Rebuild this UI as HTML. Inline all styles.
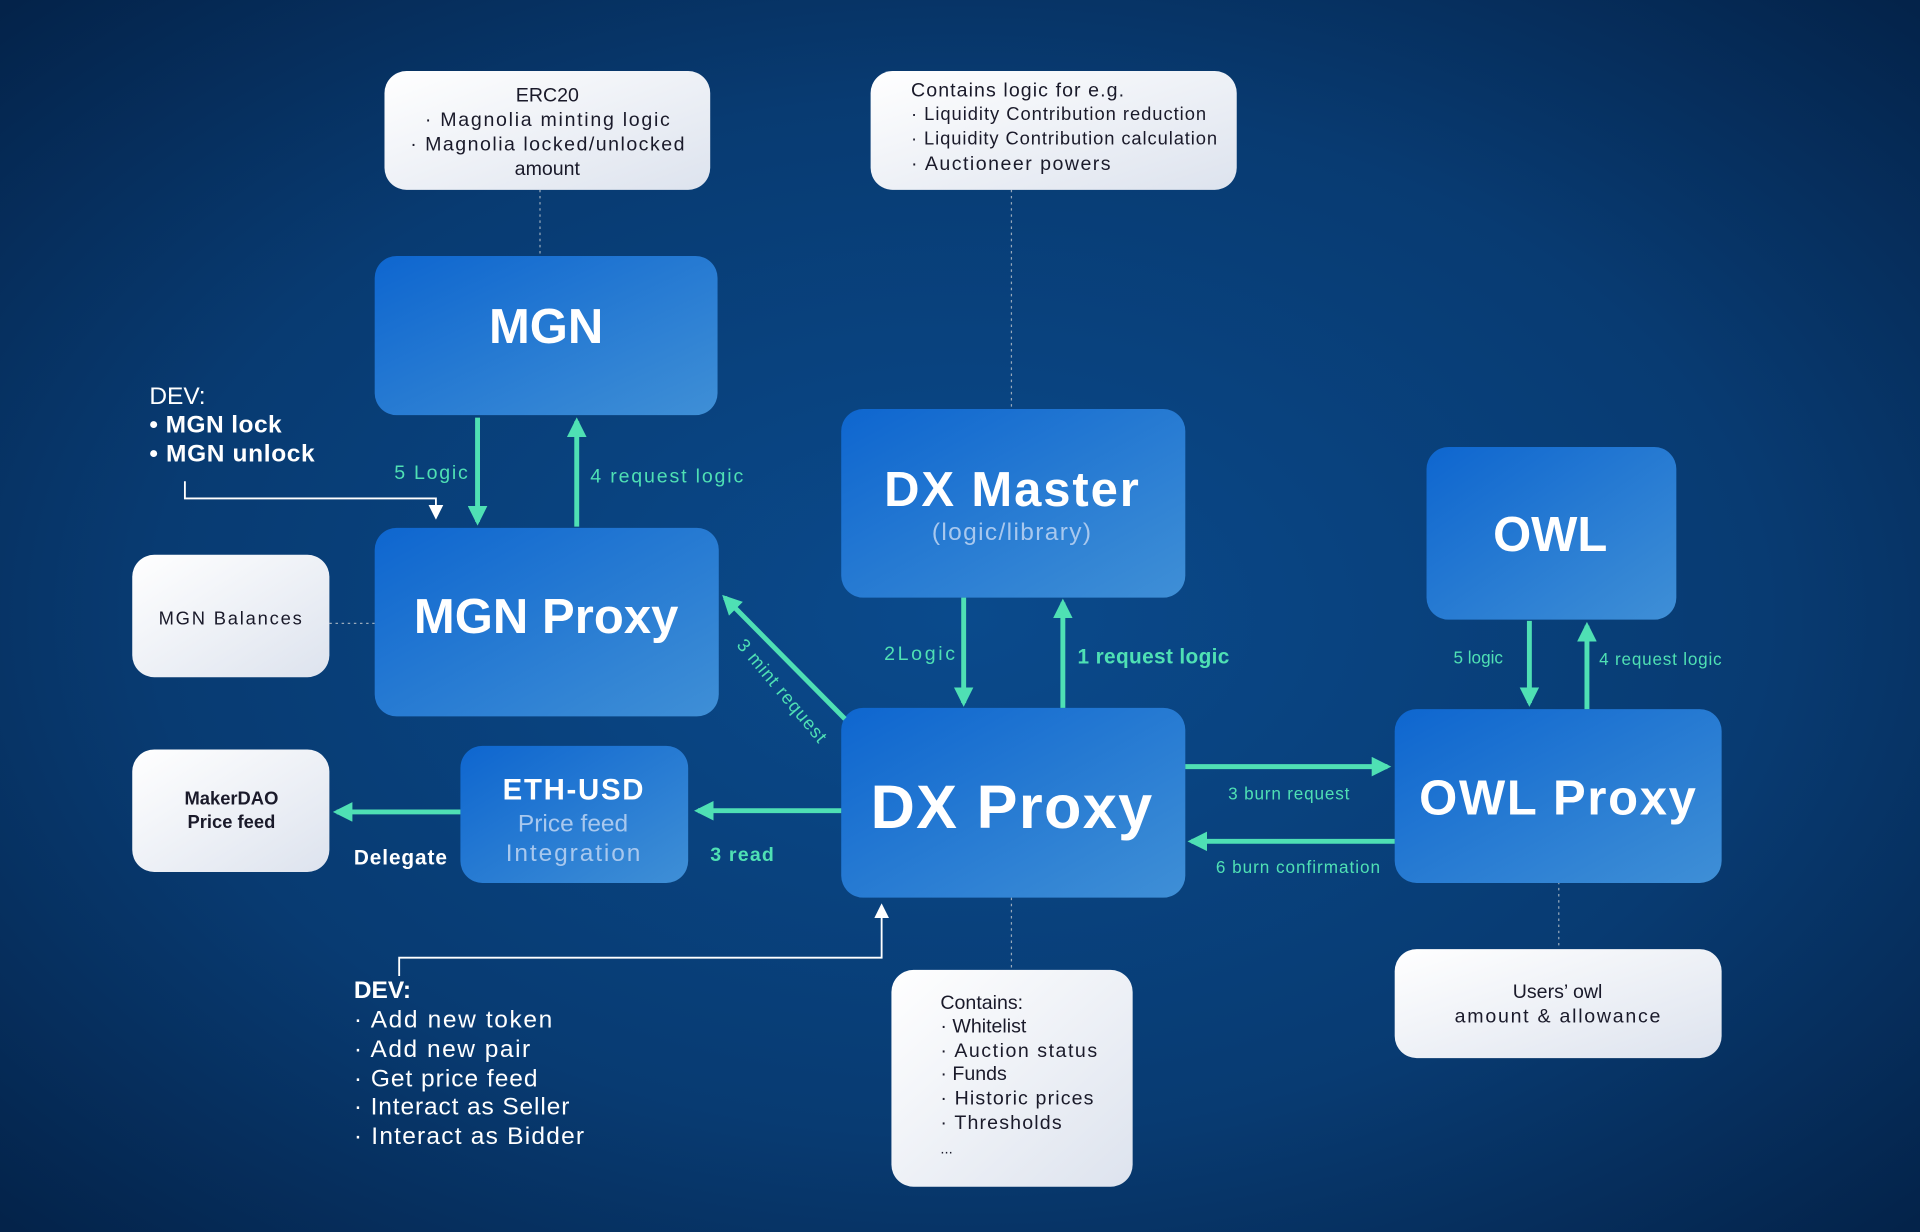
<!DOCTYPE html>
<html><head><meta charset="utf-8"><style>
html,body{margin:0;padding:0;background:#06264d;}
svg{display:block;}
text{font-family:"Liberation Sans",sans-serif;}
</style></head><body>
<svg width="1920" height="1232" viewBox="0 0 1568 1006" preserveAspectRatio="none" xmlns="http://www.w3.org/2000/svg">
<defs>
<radialGradient id="bg" cx="50%" cy="50%" r="70%">
<stop offset="0" stop-color="#0a4a8c"/><stop offset="0.6" stop-color="#083b72"/><stop offset="1" stop-color="#04234a"/>
</radialGradient>
<linearGradient id="bl" x1="0" y1="0" x2="1" y2="1">
<stop offset="0" stop-color="#0e66cf"/><stop offset="1" stop-color="#3f8fd6"/>
</linearGradient>
<linearGradient id="wh" x1="0" y1="0" x2="1" y2="1">
<stop offset="0" stop-color="#ffffff"/><stop offset="1" stop-color="#dde3ee"/>
</linearGradient>
<marker id="ar" viewBox="0 0 10 10" refX="8" refY="5" markerWidth="4" markerHeight="4" orient="auto-start-reverse">
<path d="M0,0 L10,5 L0,10 z" fill="#4fe0b4"/></marker>
<marker id="aw" viewBox="0 0 10 10" refX="8" refY="5" markerWidth="8" markerHeight="8" orient="auto">
<path d="M0,0 L10,5 L0,10 z" fill="#fff"/></marker>
</defs>
<rect width="1568" height="1006" fill="url(#bg)"/>

<g stroke="#9ab" stroke-width="1" stroke-dasharray="2,3" fill="none">
<line x1="441" y1="155" x2="441" y2="209"/>
<line x1="826" y1="155" x2="826" y2="334"/>
<line x1="269" y1="509" x2="306" y2="509"/>
<line x1="826" y1="733" x2="826" y2="792"/>
<line x1="1273" y1="720" x2="1273" y2="775"/>
</g>

<g fill="url(#wh)">
<rect x="314" y="58" width="266" height="97" rx="18"/>
<rect x="711" y="58" width="299" height="97" rx="18"/>
<rect x="108" y="453" width="161" height="100" rx="18"/>
<rect x="108" y="612" width="161" height="100" rx="18"/>
<rect x="728" y="792" width="197" height="177" rx="18"/>
<rect x="1139" y="775" width="267" height="89" rx="18"/>
</g>

<g fill="url(#bl)">
<rect x="306" y="209" width="280" height="130" rx="18"/>
<rect x="306" y="431" width="281" height="154" rx="18"/>
<rect x="687" y="334" width="281" height="154" rx="18"/>
<rect x="1165" y="365" width="204" height="141" rx="18"/>
<rect x="376" y="609" width="186" height="112" rx="18"/>
<rect x="687" y="578" width="281" height="155" rx="18"/>
<rect x="1139" y="579" width="267" height="142" rx="18"/>
</g>

<g stroke="#4fe0b4" stroke-width="4" fill="none" marker-end="url(#ar)">
<line x1="390" y1="341" x2="390" y2="426"/>
<line x1="471" y1="430" x2="471" y2="344"/>
<line x1="787" y1="488" x2="787" y2="574"/>
<line x1="868" y1="578" x2="868" y2="492"/>
<line x1="1249" y1="507" x2="1249" y2="574"/>
<line x1="1296" y1="579" x2="1296" y2="511"/>
<line x1="690" y1="587" x2="592" y2="488"/>
<line x1="687" y1="662" x2="570" y2="662"/>
<line x1="376" y1="663" x2="275" y2="663"/>
<line x1="968" y1="626" x2="1133" y2="626"/>
<line x1="1139" y1="687" x2="973" y2="687"/>
</g>

<g stroke="#fff" stroke-width="1.5" fill="none">
<polyline points="151,393 151,407 356,407 356,422" marker-end="url(#aw)"/>
<polyline points="326,797 326,782 720,782 720,740" marker-end="url(#aw)"/>
</g>

<g fill="#1a1a2a" font-size="16" text-anchor="middle">
<text x="447" y="83">ERC20</text>
<text x="447" y="103" textLength="200">· Magnolia minting logic</text>
<text x="447" y="123" textLength="224">· Magnolia locked/unlocked</text>
<text x="447" y="143">amount</text>
<text x="188" y="510" font-size="15" textLength="117">MGN Balances</text>
<text x="189" y="657" font-size="15" font-weight="bold">MakerDAO</text>
<text x="189" y="676" font-size="15" font-weight="bold">Price feed</text>
<text x="1272" y="815">Users’ owl</text>
<text x="1272" y="835" textLength="168">amount &amp; allowance</text>
</g>
<g fill="#1a1a2a" font-size="15">
<text x="744" y="79" font-size="16" textLength="174">Contains logic for e.g.</text>
<text x="744" y="98" textLength="241">· Liquidity Contribution reduction</text>
<text x="744" y="118" textLength="250">· Liquidity Contribution calculation</text>
<text x="744" y="139" font-size="16" textLength="163">· Auctioneer powers</text>
<text x="768" y="824" font-size="16">Contains:</text>
<text x="768" y="843" font-size="16">· Whitelist</text>
<text x="768" y="863" font-size="16" textLength="128">· Auction status</text>
<text x="768" y="882" font-size="16">· Funds</text>
<text x="768" y="902" font-size="16" textLength="125">· Historic prices</text>
<text x="768" y="922" font-size="16" textLength="99">· Thresholds</text>
<text x="768" y="942" font-size="12">...</text>
</g>

<g fill="#fff" font-weight="bold" text-anchor="middle">
<text x="446" y="280" font-size="40">MGN</text>
<text x="446" y="517" font-size="40" textLength="216">MGN Proxy</text>
<text x="826" y="413" font-size="40" textLength="208">DX Master</text>
<text x="1266" y="450" font-size="40">OWL</text>
<text x="468" y="653" font-size="24" textLength="115">ETH-USD</text>
<text x="826" y="676" font-size="50" textLength="230">DX Proxy</text>
<text x="1272" y="665" font-size="40" textLength="226">OWL Proxy</text>
</g>
<g fill="#a8c8ee" text-anchor="middle" font-size="20">
<text x="826" y="441" textLength="130">(logic/library)</text>
<text x="468" y="679">Price feed</text>
<text x="468" y="703" textLength="110">Integration</text>
</g>

<g fill="#4fe0b4" font-size="16">
<text x="322" y="391" textLength="60">5 Logic</text>
<text x="482" y="394" textLength="125">4 request logic</text>
<text x="722" y="539" textLength="58">2Logic</text>
<text x="880" y="542" font-weight="bold" font-size="17" textLength="124">1 request logic</text>
<text x="1187" y="542" font-size="14">5 logic</text>
<text x="1306" y="543" font-size="14" textLength="100">4 request logic</text>
<text x="580" y="703" font-weight="bold" textLength="52">3 read</text>
<text x="1003" y="653" font-size="14" textLength="99">3 burn request</text>
<text x="993" y="713" font-size="14" textLength="134">6 burn confirmation</text>
<text x="0" y="0" font-size="15" transform="translate(601,527) rotate(50)" textLength="105">3 mint request</text>
</g>

<g fill="#fff" font-size="20">
<text x="122" y="330">DEV:</text>
<text x="122" y="353" font-weight="bold" textLength="108">• MGN lock</text>
<text x="122" y="377" font-weight="bold" textLength="135">• MGN unlock</text>
<text x="289" y="706" font-size="17" font-weight="bold" textLength="76">Delegate</text>
<text x="289" y="815" font-weight="bold">DEV:</text>
<text x="289" y="839" textLength="162">· Add new token</text>
<text x="289" y="863" textLength="144">· Add new pair</text>
<text x="289" y="887" textLength="150">· Get price feed</text>
<text x="289" y="910" textLength="176">· Interact as Seller</text>
<text x="289" y="934" textLength="188">· Interact as Bidder</text>
</g>
</svg>
</body></html>
